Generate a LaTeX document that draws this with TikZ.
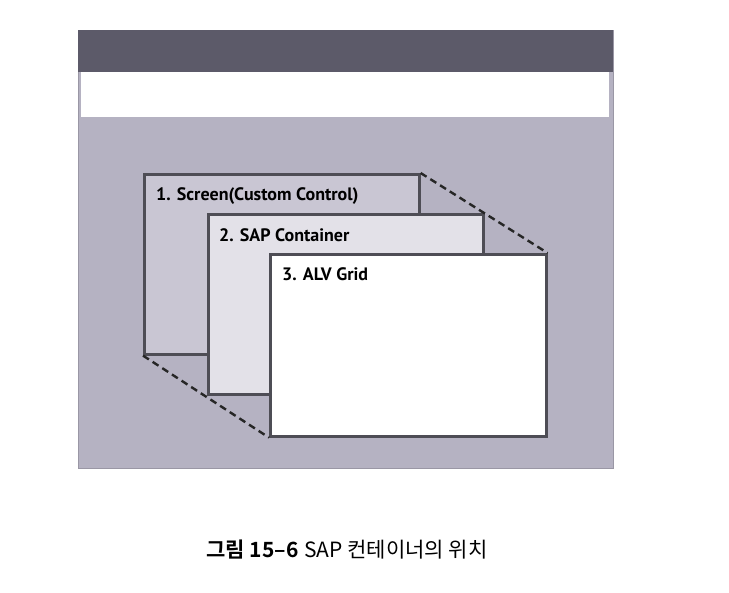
\documentclass[tikz,border=0pt]{standalone}
\usepackage{fontspec}
\setmainfont{PT Sans}
\newfontfamily\kr{Noto Sans CJK KR}
\newfontfamily\krb{Noto Sans CJK KR Bold}
\definecolor{panel}{HTML}{B5B2C2}
\definecolor{darkbar}{HTML}{5C5A69}
\definecolor{boxone}{HTML}{C9C6D3}
\definecolor{boxtwo}{HTML}{E3E1E8}
\definecolor{edge}{HTML}{4E4D55}
\begin{document}
\begin{tikzpicture}[x=1pt,y=-1pt,
  layer/.style={draw=edge,line width=2.6pt,line join=miter},
  lbl/.style={anchor=west,inner sep=0pt,font=\bfseries\fontsize{18}{18}\selectfont,text=black},
  dashline/.style={draw=black!85,line width=2.4pt,dash pattern=on 7pt off 4.5pt}]
\useasboundingbox (0,0) rectangle (729,593);
\fill[white] (0,0) rectangle (729,593);
\node[fill=panel,draw=panel!85!black,line width=0.8pt,minimum width=535pt,minimum height=438pt,inner sep=0pt,anchor=north west] (panel) at (78,30) {};
\node[fill=darkbar,minimum width=535pt,minimum height=42pt,inner sep=0pt,anchor=north west] (bar) at (78,30) {};
\node[fill=white,minimum width=528pt,minimum height=45pt,inner sep=0pt,anchor=north west] (menu) at (81,72) {};
\node[layer,fill=boxone,minimum width=275pt,minimum height=180pt,inner sep=0pt,anchor=north west] (b1) at (143,173) {};
\node[layer,fill=boxtwo,minimum width=275pt,minimum height=180pt,inner sep=0pt,anchor=north west] (b2) at (207,213) {};
\node[layer,fill=white,minimum width=276pt,minimum height=182pt,inner sep=0pt,anchor=north west] (b3) at (269,253) {};
\draw[dashline] (b1.north east) -- (b3.north east);
\draw[dashline] (b1.south west) -- (b3.south west);
\node[lbl] (t1) at (156,196) {1. Screen(Custom Control)};
\node[lbl] (t2) at (219,235) {2. SAP Container};
\node[lbl] (t3) at (282,274) {3. ALV Grid};
\node[inner sep=0pt,font=\fontsize{21}{21}\selectfont] (cap) at (347,550) {{\krb 그림 15–6} {\kr SAP 컨테이너의 위치}};
\end{tikzpicture}
\end{document}
